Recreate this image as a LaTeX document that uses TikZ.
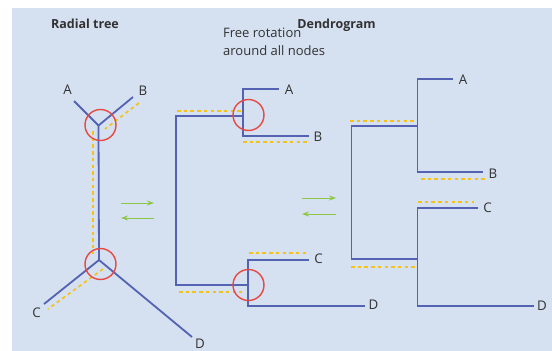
\documentclass[tikz,border=0pt]{standalone}
\usepackage{fontspec}
\setmainfont{Open Sans}
\usetikzlibrary{arrows.meta}
\definecolor{bg}{RGB}{213,224,241}
\definecolor{branch}{RGB}{84,98,178}
\definecolor{ring}{RGB}{232,72,64}
\definecolor{gold}{RGB}{245,194,28}
\definecolor{leafgreen}{RGB}{140,200,70}
\definecolor{ink}{RGB}{50,50,50}
\begin{document}
\begin{tikzpicture}[x=1pt,y=-1pt,
  branchline/.style={draw=branch,line width=1.8pt},
  ringmark/.style={draw=ring,line width=1.4pt},
  guide/.style={draw=gold,line width=1.7pt,dash pattern=on 3.5pt off 3.2pt},
  swap/.style={draw=leafgreen,line width=1pt,-{Stealth[length=7pt,width=5pt]}},
  leaf/.style={text=ink,font=\fontsize{13.3}{15}\selectfont,inner sep=0pt},
  heading/.style={text=ink,font=\bfseries\fontsize{12.5}{15}\selectfont,inner sep=0pt,anchor=base}]
\useasboundingbox (0,0) rectangle (552,351);
\fill[bg] (12,8) rectangle (552,351);

% titles
\node[heading] (t1) at (85,28.7) {Radial tree};
\node[heading] (t2) at (336.5,28.7) {Dendrogram};
\node[leaf,anchor=base west,align=left,font=\fontsize{13}{18.3}\selectfont] (note) at (223,55.5) {Free rotation\\around all nodes};

% ---------- radial tree ----------
\coordinate (r1) at (98.5,125.5);
\coordinate (r2) at (99,260);
\coordinate (rA) at (74,101);
\coordinate (rB) at (133,97);
\coordinate (rC) at (44,304);
\coordinate (rD) at (192,337);
\draw[guide] (139,103) -- (105,129);
\draw[guide] (92.7,131) -- (92.7,254);
\draw[guide] (103,269) -- (48,309);
\draw[branchline] (r1) -- (rA);
\draw[branchline] (r1) -- (rB);
\draw[branchline] (r1) -- (r2);
\draw[branchline] (r2) -- (rC);
\draw[branchline] (r2) -- (rD);
\draw[ringmark] (100.5,125) circle[radius=15.5pt];
\draw[ringmark] (100.5,264) circle[radius=15.5pt];
\node[leaf] (lA1) at (67.5,90) {A};
\node[leaf] (lB1) at (143,91) {B};
\node[leaf] (lC1) at (36.5,313) {C};
\node[leaf] (lD1) at (200,343.5) {D};

% arrows
\coordinate (g1a) at (121,203); \coordinate (g1b) at (154,203);
\coordinate (g2a) at (154,218); \coordinate (g2b) at (121,218);
\coordinate (g3a) at (302,198); \coordinate (g3b) at (336,198);
\coordinate (g4a) at (336,214); \coordinate (g4b) at (302,214);
\draw[swap] (g1a) -- (g1b);
\draw[swap] (g2a) -- (g2b);
\draw[swap] (g3a) -- (g3b);
\draw[swap] (g4a) -- (g4b);

% ---------- middle dendrogram ----------
\coordinate (m1) at (243,116);
\coordinate (m2) at (248,285);
\coordinate (mR) at (176,200);
\coordinate (mA) at (279,89);
\coordinate (mB) at (309,136);
\coordinate (mC) at (309,260);
\coordinate (mD) at (365,306);
\draw[guide] (177,111) -- (242,111);
\draw[guide] (243,142) -- (308,142);
\draw[guide] (249,253) -- (307,253);
\draw[guide] (179,292) -- (242,292);
\draw[branchline] (m1) -| (mR) |- (m2);
\draw[branchline] (mA) -| (m1) |- (mB);
\draw[branchline] (mC) -| (m2) |- (mD);
\draw[ringmark] (248.5,115) circle[radius=15.5pt];
\draw[ringmark] (248.5,285) circle[radius=15.5pt];
\node[leaf] (lA2) at (289,90) {A};
\node[leaf] (lB2) at (318,137) {B};
\node[leaf] (lC2) at (318.5,259) {C};
\node[leaf] (lD2) at (373.5,305) {D};

% ---------- right dendrogram ----------
\coordinate (n1) at (417.5,126);
\coordinate (n2) at (417.5,259);
\coordinate (nR) at (351.5,190);
\coordinate (nA) at (453,79);
\coordinate (nB) at (483,172);
\coordinate (nC) at (478,208);
\coordinate (nD) at (534,306);
\draw[guide] (350,120.7) -- (415,120.7);
\draw[guide] (421,179) -- (486,179);
\draw[guide] (418,202) -- (474,202);
\draw[guide] (351,267) -- (417,267);
\draw[branchline] (n1) -| (nR) |- (n2);
\draw[branchline] (nA) -| (n1) |- (nB);
\draw[branchline] (nC) -| (n2) |- (nD);
\node[leaf] (lA3) at (463,79.5) {A};
\node[leaf] (lB3) at (493,173.5) {B};
\node[leaf] (lC3) at (487.5,207.5) {C};
\node[leaf] (lD3) at (542,305.5) {D};
\end{tikzpicture}
\end{document}
